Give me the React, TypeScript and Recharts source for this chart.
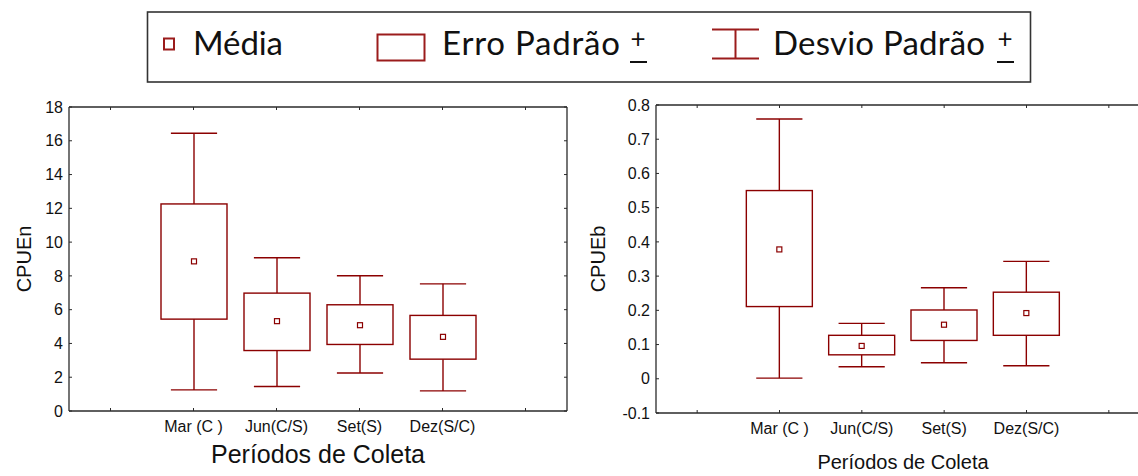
import React from 'react';
import { ComposedChart, Bar, XAxis, YAxis } from 'recharts';

// categories (first and last are empty slots, as in the original plot)
const periodos = ['', 'Mar (C )', 'Jun(C/S)', 'Set(S)', 'Dez(S/C)', ''];

// CPUEn: media, erro padrão (box) e desvio padrão (whiskers)
const cpueNMedia = [null, 8.86, 5.32, 5.08, 4.39, null];
const cpueNEpLow = [null, 5.44, 3.58, 3.94, 3.07, null];
const cpueNEpHigh = [null, 12.26, 6.98, 6.29, 5.66, null];
const cpueNDpLow = [null, 1.25, 1.45, 2.25, 1.19, null];
const cpueNDpHigh = [null, 16.45, 9.07, 8.01, 7.53, null];

// CPUEb
const cpueBMedia = [null, 0.378, 0.096, 0.158, 0.192, null];
const cpueBEpLow = [null, 0.211, 0.07, 0.112, 0.127, null];
const cpueBEpHigh = [null, 0.55, 0.127, 0.201, 0.253, null];
const cpueBDpLow = [null, 0.002, 0.035, 0.047, 0.038, null];
const cpueBDpHigh = [null, 0.759, 0.162, 0.266, 0.343, null];

const yTicksN = [0, 2, 4, 6, 8, 10, 12, 14, 16, 18];
const yTicksB = [-0.1, 0, 0.1, 0.2, 0.3, 0.4, 0.5, 0.6, 0.7, 0.8];

const RED = '#8b0000';
const AXIS = '#2a2a2a';
const FONT = '"Liberation Sans", Arial, sans-serif';

type Row = {
    periodo: string;
    media: number | null;
    epLow: number | null;
    epHigh: number | null;
    dpLow: number | null;
    dpHigh: number | null;
};

const buildRows = (media: any[], epLow: any[], epHigh: any[], dpLow: any[], dpHigh: any[]): Row[] =>
    periodos.map((p, i) => ({
        periodo: p,
        media: media[i],
        epLow: epLow[i],
        epHigh: epHigh[i],
        dpLow: dpLow[i],
        dpHigh: dpHigh[i],
    }));

const rowsN = buildRows(cpueNMedia, cpueNEpLow, cpueNEpHigh, cpueNDpLow, cpueNDpHigh);
const rowsB = buildRows(cpueBMedia, cpueBEpLow, cpueBEpHigh, cpueBDpLow, cpueBDpHigh);

// the bar spans the whisker range; the rest is placed along the same scale
const BoxShape = (props: any) => {
    const { x, y, width, height, payload } = props;
    if (payload == null || payload.dpLow == null) return null;
    const top = Math.min(y, y + height);
    const bottom = Math.max(y, y + height);
    const lo = payload.dpLow;
    const hi = payload.dpHigh;
    const toY = (v: number) => bottom - ((v - lo) / (hi - lo)) * (bottom - top);
    const cx = x + width / 2;
    const capHalf = width * 0.35;
    const boxTop = toY(payload.epHigh);
    const boxBottom = toY(payload.epLow);
    const my = toY(payload.media);
    return (
        <g stroke={RED} strokeWidth={1.4} fill="none">
            <line x1={cx} x2={cx} y1={top} y2={boxTop} />
            <line x1={cx} x2={cx} y1={boxBottom} y2={bottom} />
            <line x1={cx - capHalf} x2={cx + capHalf} y1={top} y2={top} />
            <line x1={cx - capHalf} x2={cx + capHalf} y1={bottom} y2={bottom} />
            <rect x={x} y={boxTop} width={width} height={boxBottom - boxTop} fill="#fff" />
            <rect x={cx - 2.5} y={my - 2.5} width={5} height={5} strokeWidth={1.2} />
        </g>
    );
};

const YTitle = ({ viewBox, value, cx }: any) => {
    const cy = viewBox.y + viewBox.height / 2;
    return (
        <text
            x={cx}
            y={cy}
            transform={`rotate(-90 ${cx} ${cy})`}
            textAnchor="middle"
            dominantBaseline="central"
            fontSize={20}
            fontFamily={FONT}
            fill="#111"
        >
            {value}
        </text>
    );
};

interface BoxPanelProps {
    rows: Row[];
    width: number;
    height: number;
    margin: { top: number; right: number; bottom: number; left: number };
    domain: [number, number];
    ticks: number[];
    yLabel: string;
    yLabelX: number;
    xTitleSize: number;
    xAxisHeight: number;
}

function BoxPanel({ rows, width, height, margin, domain, ticks, yLabel, yLabelX, xTitleSize, xAxisHeight }: BoxPanelProps) {
    const tickStyle = { fontSize: 16, fill: '#111', fontFamily: FONT };
    return (
        <ComposedChart width={width} height={height} data={rows} margin={margin} barCategoryGap={0}>
            <XAxis
                dataKey="periodo"
                height={xAxisHeight}
                tick={tickStyle}
                tickLine={false}
                tickSize={0}
                tickMargin={10}
                axisLine={{ stroke: AXIS, strokeWidth: 1.3 }}
                interval={0}
                label={{
                    value: 'Períodos de Coleta',
                    position: 'insideBottom',
                    offset: 0,
                    fontSize: xTitleSize,
                    fill: '#111',
                    fontFamily: FONT,
                }}
            />
            {/* inward tick marks on the bottom and top edges */}
            <XAxis xAxisId="bIn" dataKey="periodo" mirror tickSize={3} tickFormatter={() => ''} axisLine={false} tickLine={{ stroke: AXIS }} interval={0} />
            <XAxis xAxisId="top" dataKey="periodo" orientation="top" mirror tickSize={3} tickFormatter={() => ''} axisLine={{ stroke: AXIS, strokeWidth: 1.3 }} tickLine={{ stroke: AXIS }} interval={0} />
            <YAxis
                type="number"
                domain={domain}
                ticks={ticks}
                width={60}
                tick={tickStyle}
                tickLine={false}
                tickSize={0}
                tickMargin={6}
                axisLine={{ stroke: AXIS, strokeWidth: 1.3 }}
                allowDataOverflow
                interval={0}
                label={{ value: yLabel, content: (p: any) => <YTitle {...p} value={yLabel} cx={yLabelX} /> }}
            />
            <YAxis yAxisId="lIn" type="number" domain={domain} ticks={ticks} mirror tickSize={3} tickFormatter={() => ''} axisLine={false} tickLine={{ stroke: AXIS }} allowDataOverflow interval={0} />
            <YAxis yAxisId="right" type="number" orientation="right" domain={domain} ticks={ticks} mirror tickSize={3} tickFormatter={() => ''} axisLine={{ stroke: AXIS, strokeWidth: 1.3 }} tickLine={{ stroke: AXIS }} allowDataOverflow interval={0} />
            <Bar
                dataKey={(d: Row) => (d.dpLow == null ? null : [d.dpLow, d.dpHigh])}
                barSize={66}
                shape={<BoxShape />}
                isAnimationActive={false}
            />
        </ComposedChart>
    );
}

function Legend() {
    const textStyle = { fontFamily: 'Lato, "Open Sans", sans-serif', fontSize: 33, fill: '#111' };
    const mark = '#9b1c1c';
    return (
        <svg width={1138} height={90} style={{ position: 'absolute', left: 0, top: 0 }}>
            <rect x={147.5} y={12} width={883} height={70} fill="#fff" stroke="#333" strokeWidth={1.6} />
            <rect x={164} y={38.5} width={10} height={11} fill="none" stroke={mark} strokeWidth={2} />
            <text x={193} y={55} {...textStyle} textLength={90}>Média</text>

            <rect x={377.5} y={34.5} width={47} height={26} fill="none" stroke={mark} strokeWidth={2} />
            <text x={442} y={55} {...textStyle} textLength={178}>Erro Padrão</text>
            <text x={638} y={48} {...textStyle} fontSize={26} textAnchor="middle">+</text>
            <line x1={630} x2={647} y1={62} y2={62} stroke="#111" strokeWidth={2} />

            <g stroke={mark} strokeWidth={2}>
                <line x1={712} x2={759} y1={29.5} y2={29.5} />
                <line x1={712} x2={759} y1={58.5} y2={58.5} />
                <line x1={735.5} x2={735.5} y1={29.5} y2={58.5} />
            </g>
            <text x={773} y={55} {...textStyle} textLength={212}>Desvio Padrão</text>
            <text x={1005} y={48} {...textStyle} fontSize={26} textAnchor="middle">+</text>
            <line x1={997} x2={1014} y1={62} y2={62} stroke="#111" strokeWidth={2} />
        </svg>
    );
}

export default function App() {
    return (
        <div style={{ position: 'fixed', left: 0, top: 0, width: 1138, height: 476, overflow: 'hidden', background: '#fff' }}>
            <Legend />
            <div style={{ position: 'absolute', left: 0, top: 0 }}>
                <BoxPanel
                    rows={rowsN}
                    width={580}
                    height={476}
                    margin={{ top: 107, right: 13, bottom: 13, left: 9 }}
                    domain={[0, 18]}
                    ticks={yTicksN}
                    yLabel="CPUEn"
                    yLabelX={24}
                    xTitleSize={25}
                    xAxisHeight={52}
                />
            </div>
            <div style={{ position: 'absolute', left: 580, top: 0 }}>
                <BoxPanel
                    rows={rowsB}
                    width={600}
                    height={476}
                    margin={{ top: 105, right: 30, bottom: 7, left: 16 }}
                    domain={[-0.1, 0.8]}
                    ticks={yTicksB}
                    yLabel="CPUEb"
                    yLabelX={18}
                    xTitleSize={20}
                    xAxisHeight={56}
                />
            </div>
        </div>
    );
}
